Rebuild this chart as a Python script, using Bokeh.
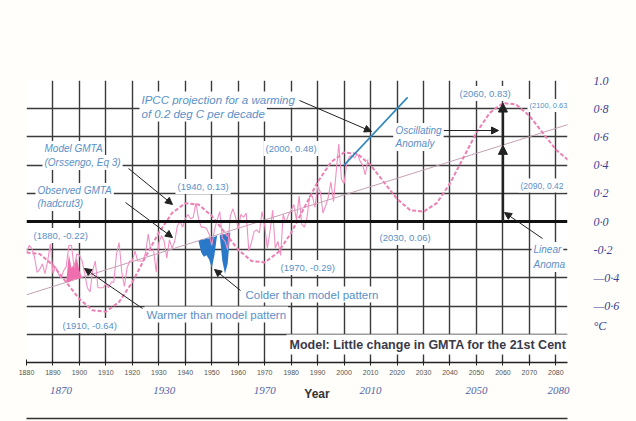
from bokeh.plotting import figure
from bokeh.models import (Range1d, LinearAxis, FixedTicker, Grid, Span, Label,
                          Arrow, NormalHead)
from bokeh.embed import file_html
from bokeh.resources import INLINE

# ---------------- data ----------------
obs_years = list(range(1880, 2010))
obs_vals = [
    -0.22, -0.17, -0.19, -0.25, -0.36, -0.34, -0.30, -0.37, -0.28, -0.16,
    -0.37, -0.32, -0.37, -0.40, -0.35, -0.32, -0.17, -0.17, -0.33, -0.23,
    -0.24, -0.28, -0.37, -0.47, -0.50, -0.35, -0.28, -0.47, -0.47, -0.47,
    -0.44, -0.47, -0.43, -0.43, -0.23, -0.15, -0.36, -0.46, -0.33, -0.28,
    -0.28, -0.21, -0.28, -0.28, -0.28, -0.22, -0.09, -0.21, -0.20, -0.36,
    -0.15, -0.10, -0.14, -0.26, -0.13, -0.19, -0.14, -0.03, 0.00, -0.04,
    0.02, 0.05, 0.02, 0.03, 0.13, 0.02, -0.04, -0.04, -0.05, -0.09,
    -0.17, -0.06, 0.01, 0.07, -0.12, -0.14, -0.20, 0.04, 0.09, 0.03,
    -0.05, 0.05, 0.03, 0.06, -0.21, -0.15, -0.07, -0.06, -0.08, 0.07,
    -0.03, -0.19, -0.07, 0.08, -0.19, -0.14, -0.24, 0.05, -0.01, 0.05,
    0.08, 0.12, 0.01, 0.18, -0.02, -0.04, 0.03, 0.18, 0.18, 0.10,
    0.25, 0.21, 0.06, 0.11, 0.17, 0.28, 0.14, 0.35, 0.55, 0.30,
    0.27, 0.41, 0.46, 0.47, 0.45, 0.48, 0.43, 0.40, 0.33, 0.44,
]

model_years = list(range(1880, 2086, 5))
model_vals = [
    -0.22, -0.23, -0.31, -0.43, -0.55, -0.63, -0.64, -0.57, -0.43, -0.25,
    -0.08, 0.06, 0.13, 0.12, 0.04, -0.08, -0.20, -0.28, -0.29, -0.22,
    -0.08, 0.10, 0.28, 0.42, 0.49, 0.48, 0.40, 0.28, 0.16, 0.08,
    0.07, 0.13, 0.27, 0.45, 0.63, 0.77, 0.84, 0.83, 0.75, 0.63,
    0.51, 0.43,
]

trend_years = [1880, 2085]
trend_vals = [-0.52, 0.69]

ipcc_years = [2000, 2024]
ipcc_vals = [0.40, 0.88]

warm_years = [1895, 1896, 1897, 1898, 1899, 1900, 1901]
warm_upper = [-0.43, -0.23, -0.33, -0.30, -0.26, -0.35, -0.40]
warm_lower = [-0.43, -0.43, -0.42, -0.41, -0.41, -0.40, -0.40]

cold_years = [1945, 1946, 1947, 1948, 1949, 1950, 1951, 1952,
              1953, 1954, 1955, 1956, 1957]
cold_upper = [-0.14, -0.13, -0.13, -0.12, -0.12, -0.11, -0.11, -0.10,
              -0.10, -0.09, -0.09, -0.08, -0.08]
cold_lower = [-0.14, -0.22, -0.25, -0.24, -0.27, -0.33, -0.24, -0.10,
              -0.10, -0.28, -0.37, -0.30, -0.08]

arrow_year = 2060
linear_2060 = 0.54
peak_2060 = 0.84

x_ticks = list(range(1880, 2081, 10))
y_grid_ticks = [-0.8, -0.6, -0.4, -0.2, 0.2, 0.4, 0.6, 0.8]
right_ticks = [1.0, 0.8, 0.6, 0.4, 0.2, 0.0, -0.2, -0.4, -0.6, -0.74]
right_labels = ["1.0", "0·8", "0·6", "0·4", "0·2", "0·0", "-0·2", "—0·4",
                "—0·6", "°C"]
hand_ticks = [1893, 1932, 1970, 2010, 2050, 2081]
hand_labels = ["1870", "1930", "1970", "2010", "2050", "2080"]

# ---------------- figure ----------------
W, H = 636, 421
L, R, T, B = 26, 69, 80, 59
X0, X1 = 1880, 2084.4
Y0, Y1 = -1.0, 1.0

p = figure(width=W, height=H, output_backend="svg", toolbar_location=None,
           x_range=Range1d(X0, X1), y_range=Range1d(Y0, Y1),
           x_axis_location=None, y_axis_location=None,
           min_border_left=L, min_border_right=R, min_border_top=T,
           min_border_bottom=B)
p.background_fill_color = "#ffffff"
p.border_fill_color = "#fffefa"
p.outline_line_color = None
p.center = [r for r in p.center if not isinstance(r, Grid)]

FW = W - L - R
FH = H - T - B


def X(px):
    return X0 + (px - L) * (X1 - X0) / FW


def Y(py):
    return Y1 - (py - T) * (Y1 - Y0) / FH


GRID = "#3a3a3a"
p.add_layout(Grid(dimension=0, ticker=FixedTicker(ticks=x_ticks),
                  grid_line_color=GRID, grid_line_width=1.4))
p.add_layout(Grid(dimension=1, ticker=FixedTicker(ticks=y_grid_ticks),
                  grid_line_color=GRID, grid_line_width=1.4))
p.add_layout(Span(location=0, dimension="width", line_color="#111111",
                  line_width=3))

# axes
xa = LinearAxis(ticker=FixedTicker(ticks=x_ticks), major_tick_in=3,
                major_tick_out=3, minor_tick_line_color=None,
                major_label_text_font="Liberation Sans",
                major_label_text_font_size="7px",
                major_label_text_color="#555555", major_label_standoff=4,
                axis_line_color="#222222", axis_line_width=1.3,
                major_tick_line_color="#222222")
p.add_layout(xa, "below")

ha = LinearAxis(ticker=FixedTicker(ticks=hand_ticks),
                major_label_overrides=dict(zip(hand_ticks, hand_labels)),
                axis_line_color=None, major_tick_line_color=None,
                minor_tick_line_color=None, major_label_standoff=3,
                major_label_text_font="Liberation Serif",
                major_label_text_font_style="italic",
                major_label_text_font_size="11px",
                major_label_text_color="#5564a8",
                axis_label="\u00a0" * 12 + "Year\n\u00a0",
                axis_label_standoff=-10,
                axis_label_text_font="Liberation Sans",
                axis_label_text_font_style="bold",
                axis_label_text_font_size="12px",
                axis_label_text_line_height=1.1,
                axis_label_text_color="#333333")
p.add_layout(ha, "below")

bl = LinearAxis(ticker=FixedTicker(ticks=[]), axis_line_color="#333333",
                axis_line_width=1.5, major_tick_line_color=None,
                minor_tick_line_color=None, major_tick_out=0,
                major_tick_in=0)
p.add_layout(bl, "below")

ra = LinearAxis(ticker=FixedTicker(ticks=right_ticks),
                major_label_overrides=dict(zip(right_ticks, right_labels)),
                axis_line_color=None, major_tick_line_color=None,
                minor_tick_line_color=None, major_label_standoff=20,
                major_label_text_font="Liberation Serif",
                major_label_text_font_style="italic",
                major_label_text_font_size="12px",
                major_label_text_color="#3b3f95")
p.add_layout(ra, "right")

# glyphs
p.line(trend_years, trend_vals, line_color="#c3a1b5", line_width=1)
p.varea(x=warm_years, y1=warm_lower, y2=warm_upper, fill_color="#ef6fae")
p.varea(x=cold_years, y1=cold_lower, y2=cold_upper, fill_color="#2a78c8")
p.line(obs_years, obs_vals, line_color="#f290c2", line_width=1.1)
p.line(model_years, model_vals, line_color="#ec7fb3", line_width=2,
       line_dash="4 2")
p.line(ipcc_years, ipcc_vals, line_color="#2f86bf", line_width=1.6)


# arrows
def arr(x0, y0, x1, y1, lw=1.0, size=7):
    p.add_layout(Arrow(x_start=x0, y_start=y0, x_end=x1, y_end=y1,
                       line_color="#222222", line_width=lw,
                       end=NormalHead(size=size, fill_color="#222222",
                                      line_color="#222222")))


arr(arrow_year, 0.0, arrow_year, linear_2060, lw=2.5, size=9)
arr(arrow_year, linear_2060, arrow_year, peak_2060, lw=2.5, size=9)
arr(X(299), Y(100), X(371), Y(131))
arr(X(443), Y(130), X(498), Y(130))
arr(X(542), Y(238), X(504), Y(212))
arr(X(128), Y(168), X(172), Y(204))
arr(X(125), Y(202), X(172), Y(237))
arr(X(142), Y(308), X(84), Y(268))
arr(X(240), Y(290), X(214), Y(269))

# labels
BLUE = "#5a90c8"


def lab(text, px, py, size="9.5px", color=BLUE, style="normal",
        align="left", bg="white", font="Liberation Sans", pad=2):
    p.add_layout(Label(x=X(px), y=Y(py), text=text, text_font=font,
                       text_font_size=size, text_color=color,
                       text_font_style=style, text_align=align,
                       text_baseline="middle", background_fill_color=bg,
                       padding=pad))


lab("Global Yearly Mean Temperature Anomaly (GMTA) Observations and Model",
    300, 44, size="13.5px", color="#333333", style="bold", align="center",
    bg=None)
lab("For the model, GMTA = 0.0059(Year-1880)- 0.52 + 0.3Cos(((Year-1880)/60)*2*3.1416)",
    301, 59, size="11px", color="#333333", style="bold", align="center",
    bg=None)

lab("IPCC projection for a warming", 139, 99, size="11.5px", style="italic")
lab("of 0.2 deg C per decade", 139, 113, size="11.5px", style="italic")
lab("Model GMTA", 42, 148, size="10px", style="italic")
lab("(Orssengo, Eq 3)", 42, 162, size="10px", style="italic")
lab("Observed GMTA", 35, 190, size="10px", style="italic")
lab("(hadcrut3)", 35, 203, size="10px", style="italic")
lab("Oscillating", 393, 130, size="10px", style="italic")
lab("Anomaly", 393, 143, size="10px", style="italic")
lab("Linear", 531, 249, size="10px", style="italic")
lab("Anoma", 531, 264, size="10px", style="italic")

lab("(2000, 0.48)", 263, 148)
lab("(1940, 0.13)", 175, 186)
lab("(1880, -0.22)", 31, 235)
lab("(1910, -0.64)", 60, 325)
lab("(1970, -0.29)", 278, 267)
lab("(2030, 0.06)", 377, 237)
lab("(2060, 0.83)", 457, 93)
lab("(2100, 0.63", 527, 105, size="7.5px")
lab("(2090, 0.42", 518, 185, size="8.5px")
lab("Warmer than model pattern", 144, 314, size="11.5px")
lab("Colder than model pattern", 243, 294, size="11.5px")
lab("Model: Little change in GMTA for the 21st Cent", 286, 344,
    size="12.5px", color="#3a3a48", style="bold", pad=3)

open("out.html", "w").write(file_html(p, INLINE))
